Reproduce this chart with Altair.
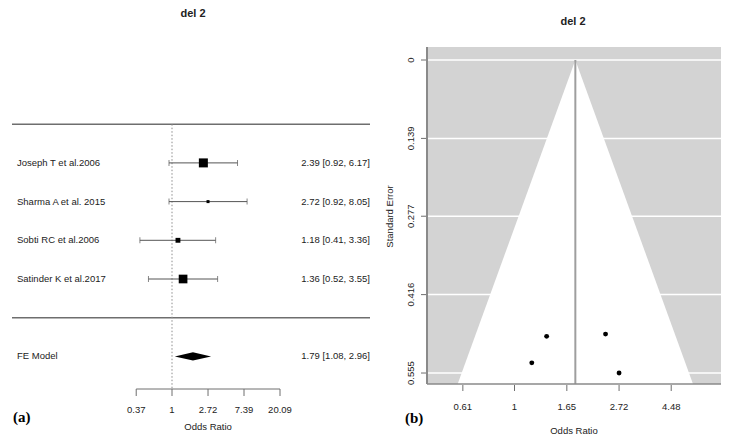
import altair as alt
import numpy as np
import pandas as pd

# ---------------- data ----------------
title_text = "del 2"
studies = ["Joseph T et al.2006", "Sharma A et al. 2015", "Sobti RC et al.2006", "Satinder K et al.2017"]
or_est = [2.39, 2.72, 1.18, 1.36]
ci_low = [0.92, 0.92, 0.41, 0.52]
ci_high = [6.17, 8.05, 3.36, 3.55]
weights = [28.0, 21.6, 22.9, 27.5]          # relative study weights (square size)
std_err = [0.486, 0.555, 0.537, 0.490]      # standard errors (funnel plot)
fe_label = "FE Model"
fe_est, fe_low, fe_high = 1.79, 1.08, 2.96
forest_ticks = [0.37, 1, 2.72, 7.39, 20.09]
forest_tick_labels = ["0.37", "1", "2.72", "7.39", "20.09"]
funnel_x_ticks = [0.61, 1, 1.65, 2.72, 4.48]
funnel_x_labels = ["0.61", "1", "1.65", "2.72", "4.48"]
funnel_y_ticks = [0, 0.139, 0.277, 0.416, 0.555]
funnel_y_labels = ["0", "0.139", "0.277", "0.416", "0.555"]

# ---------------- layout ----------------
FONT = "Liberation Sans"
SERIF = "Liberation Serif"
TXT = "#222222"
PW, PH = 362, 428

# forest panel: ln(OR) and row coordinates
F_X0, F_XS = 164.0, 36.0
F_Y0, F_YS = 309.7, 38.7
fx_dom = [-F_X0 / F_XS, (PW - F_X0) / F_XS]
fy_dom = [(F_Y0 - PH) / F_YS, F_Y0 / F_YS]
AX_Y = 381

# funnel panel: ln(OR) and SE coordinates
U_X0, U_XS = 144.5, 104.5
U_Y0, U_YS = 52.0, 564.0
ux_dom = [-U_X0 / U_XS, (PW - U_X0) / U_XS]
uy_dom = [-U_Y0 / U_YS, (PH - U_Y0) / U_YS]
REG_L, REG_R, REG_T, REG_B = 57, 351, 39, 376


def FX(f):
    return alt.X(f, type="quantitative", scale=alt.Scale(domain=fx_dom, nice=False, zero=False), axis=None)


def FY(f):
    return alt.Y(f, type="quantitative", scale=alt.Scale(domain=fy_dom, nice=False, zero=False), axis=None)


def UX(f):
    return alt.X(f, type="quantitative", scale=alt.Scale(domain=ux_dom, nice=False, zero=False), axis=None)


def UY(f):
    return alt.Y(f, type="quantitative", scale=alt.Scale(domain=uy_dom, nice=False, zero=False, reverse=True), axis=None)


one = pd.DataFrame({"d": [0]})

# ---------------- forest plot ----------------
k = len(studies)
rows = list(range(k, 0, -1))
fdf = pd.DataFrame({"study": studies, "est": or_est, "lo": ci_low, "hi": ci_high,
                    "w": weights, "row": rows})
fdf["lx"] = np.log(fdf["est"])
fdf["llo"] = np.log(fdf["lo"])
fdf["lhi"] = np.log(fdf["hi"])

lab_df = pd.DataFrame({
    "label": studies + [fe_label],
    "row": rows + [-1],
    "ann": [f"{e:.2f} [{l:.2f}, {h:.2f}]" for e, l, h in zip(or_est, ci_low, ci_high)]
           + [f"{fe_est:.2f} [{fe_low:.2f}, {fe_high:.2f}]"],
})

caps = pd.DataFrame({"v": list(fdf["llo"]) + list(fdf["lhi"]), "row": rows + rows})
sep_df = pd.DataFrame({"r": [k + 1, 0]})
ref_df = pd.DataFrame({"x": [0.0], "r": [k + 1]})
dh = 4.2 / F_YS
dia_df = pd.DataFrame({"x": np.log([fe_low, fe_est, fe_high]),
                       "yt": [-1, -1 + dh, -1], "yb": [-1, -1 - dh, -1]})
ftick_df = pd.DataFrame({"lx": np.log(forest_ticks), "lab": forest_tick_labels})
faxis_df = pd.DataFrame({"a": [np.log(forest_ticks[0])], "b": [np.log(forest_ticks[-1])],
                         "m": [(np.log(forest_ticks[0]) + np.log(forest_ticks[-1])) / 2]})

wmin, wmax = min(weights), max(weights)

forest = alt.layer(
    alt.Chart(sep_df).mark_rule(color="#6e6e6e", strokeWidth=1.5).encode(
        y=FY("r"), x=alt.value(4), x2=alt.value(PW)),
    alt.Chart(ref_df).mark_rule(color="#8c8c8c", strokeDash=[1.5, 2], strokeWidth=1).encode(
        x=FX("x"), y=FY("r"), y2=alt.value(AX_Y)),
    alt.Chart(fdf).mark_rule(color="#555555", strokeWidth=1).encode(
        x=FX("llo"), x2="lhi", y=FY("row")),
    alt.Chart(caps).mark_tick(orient="vertical", size=6, thickness=1, color="#555555").encode(
        x=FX("v"), y=FY("row")),
    alt.Chart(fdf).mark_square(color="black", opacity=1).encode(
        x=FX("lx"), y=FY("row"),
        size=alt.Size("w", type="quantitative", scale=alt.Scale(domain=[wmin, wmax], range=[9, 81]), legend=None)),
    alt.Chart(dia_df).mark_area(color="black").encode(x=FX("x"), y=FY("yt"), y2="yb"),
    alt.Chart(lab_df).mark_text(align="left", baseline="middle", font=FONT, fontSize=9.5, color=TXT).encode(
        y=FY("row"), x=alt.value(9), text="label"),
    alt.Chart(lab_df).mark_text(align="right", baseline="middle", font=FONT, fontSize=9.5, color=TXT).encode(
        y=FY("row"), x=alt.value(PW), text="ann"),
    alt.Chart(faxis_df).mark_rule(color="#6e6e6e", strokeWidth=1).encode(
        x=FX("a"), x2="b", y=alt.value(AX_Y)),
    alt.Chart(ftick_df).mark_rule(color="#6e6e6e", strokeWidth=1).encode(
        x=FX("lx"), y=alt.value(AX_Y), y2=alt.value(AX_Y + 7)),
    alt.Chart(ftick_df).mark_text(baseline="middle", font=FONT, fontSize=9.5, color=TXT).encode(
        x=FX("lx"), y=alt.value(402), text="lab"),
    alt.Chart(faxis_df).mark_text(baseline="middle", font=FONT, fontSize=9.5, color=TXT).encode(
        x=FX("m"), y=alt.value(419), text=alt.value("Odds Ratio")),
    alt.Chart(one).mark_text(align="left", baseline="middle", font=SERIF, fontSize=15,
                             fontWeight="bold", color="black").encode(
        x=alt.value(5), y=alt.value(409), text=alt.value("(a)")),
    alt.Chart(one).mark_text(baseline="middle", font=FONT, fontSize=11, fontWeight="bold", color=TXT).encode(
        x=alt.value(185), y=alt.value(6), text=alt.value(title_text)),
).properties(width=PW, height=PH)

# ---------------- funnel plot ----------------
lest = np.log(fe_est)
se_bot = (REG_B - U_Y0) / U_YS
pdf = pd.DataFrame({"lx": np.log(or_est), "se": std_err})
reg_df = pd.DataFrame({"x1": [(REG_L - U_X0) / U_XS], "x2": [(REG_R - U_X0) / U_XS],
                       "y1": [(REG_T - U_Y0) / U_YS], "y2": [se_bot]})
fun_df = pd.DataFrame({"se": [0.0, se_bot],
                       "lo": [lest, lest - 1.96 * se_bot], "hi": [lest, lest + 1.96 * se_bot]})
refu_df = pd.DataFrame({"x": [lest], "y1": [0.0], "y2": [se_bot]})
uyt_df = pd.DataFrame({"se": funnel_y_ticks, "lab": funnel_y_labels})
uxt_df = pd.DataFrame({"lx": np.log(funnel_x_ticks), "lab": funnel_x_labels})

funnel = alt.layer(
    alt.Chart(reg_df).mark_rect(color="#d3d3d3").encode(
        x=UX("x1"), x2="x2", y=UY("y1"), y2="y2"),
    alt.Chart(uyt_df).mark_rule(color="white", strokeWidth=1.5).encode(
        y=UY("se"), x=alt.value(REG_L), x2=alt.value(REG_R)),
    alt.Chart(fun_df).mark_area(orient="horizontal", color="white", opacity=1).encode(
        y=UY("se"), x=UX("lo"), x2="hi"),
    alt.Chart(refu_df).mark_rule(color="#9e9e9e", strokeWidth=2).encode(
        x=UX("x"), y=UY("y1"), y2="y2"),
    alt.Chart(one).mark_rule(color="#8a8a8a", strokeWidth=2).encode(
        x=alt.value(REG_L), y=alt.value(REG_T), y2=alt.value(REG_B)),
    alt.Chart(one).mark_rule(color="#8a8a8a", strokeWidth=1.5).encode(
        y=alt.value(REG_B), x=alt.value(REG_L), x2=alt.value(REG_R)),
    alt.Chart(uyt_df).mark_rule(color="#6e6e6e").encode(
        y=UY("se"), x=alt.value(REG_L - 6), x2=alt.value(REG_L - 1)),
    alt.Chart(uyt_df).mark_text(angle=270, baseline="middle", font=FONT, fontSize=9.5, color=TXT).encode(
        y=UY("se"), x=alt.value(41), text="lab"),
    alt.Chart(uxt_df).mark_rule(color="#6e6e6e").encode(
        x=UX("lx"), y=alt.value(REG_B + 1), y2=alt.value(REG_B + 7)),
    alt.Chart(uxt_df).mark_text(baseline="middle", font=FONT, fontSize=9.5, color=TXT).encode(
        x=UX("lx"), y=alt.value(399), text="lab"),
    alt.Chart(one).mark_text(baseline="middle", font=FONT, fontSize=9.5, color=TXT).encode(
        x=alt.value((REG_L + REG_R) / 2), y=alt.value(423), text=alt.value("Odds Ratio")),
    alt.Chart(one).mark_text(angle=270, baseline="middle", font=FONT, fontSize=9.5, color=TXT).encode(
        x=alt.value(20), y=alt.value(208.5), text=alt.value("Standard Error")),
    alt.Chart(one).mark_text(align="left", baseline="middle", font=SERIF, fontSize=15,
                             fontWeight="bold", color="black").encode(
        x=alt.value(35), y=alt.value(410), text=alt.value("(b)")),
    alt.Chart(one).mark_text(baseline="middle", font=FONT, fontSize=11, fontWeight="bold", color=TXT).encode(
        x=alt.value(203), y=alt.value(14), text=alt.value(title_text)),
    alt.Chart(pdf).mark_circle(color="black", opacity=1, size=24).encode(
        x=UX("lx"), y=UY("se")),
).properties(width=PW, height=PH)

chart = alt.hconcat(forest, funnel, spacing=0, bounds="flush").properties(
    padding=0, background="white"
).configure_view(stroke=None)

chart.save("out.html", embed_options={"renderer": "svg", "actions": False})
